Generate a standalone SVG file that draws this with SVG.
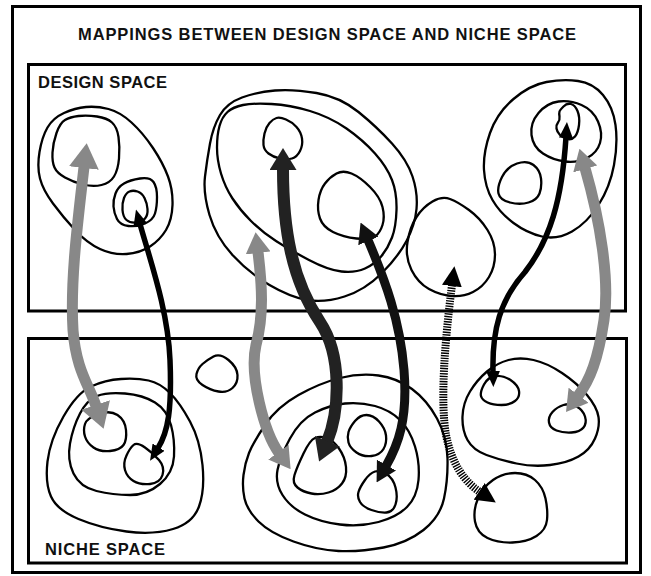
<svg xmlns="http://www.w3.org/2000/svg" width="651" height="576" viewBox="0 0 651 576">
<style>
.frame{fill:none;stroke:#000;stroke-width:3}
.blob{fill:none;stroke:#000;stroke-width:2.3;stroke-linejoin:round}
.lbl{font-family:"Liberation Sans",Arial,sans-serif;font-weight:bold;font-size:16.5px;fill:#111}
.arr{fill:none;stroke-linecap:butt}
</style>
<defs>
<marker id="hgL" markerUnits="userSpaceOnUse" viewBox="0 0 25 30" markerWidth="25" markerHeight="30" refX="1" refY="15" orient="auto-start-reverse"><path d="M0,0 L25,15 L0,30 Z" fill="#888"/></marker>
<marker id="hgS" markerUnits="userSpaceOnUse" viewBox="0 0 21 25" markerWidth="21" markerHeight="25" refX="1" refY="12.5" orient="auto-start-reverse"><path d="M0,0 L21,12.5 L0,25 Z" fill="#888"/></marker>
<marker id="hd1" markerUnits="userSpaceOnUse" viewBox="0 0 22 27" markerWidth="22" markerHeight="27" refX="1" refY="13.5" orient="auto-start-reverse"><path d="M0,0 L22,13.5 L0,27 Z" fill="#222"/></marker>
<marker id="hd2" markerUnits="userSpaceOnUse" viewBox="0 0 20 22" markerWidth="20" markerHeight="22" refX="1" refY="11" orient="auto-start-reverse"><path d="M0,0 L20,11 L0,22 Z" fill="#111"/></marker>
<marker id="hb" markerUnits="userSpaceOnUse" viewBox="0 0 16 14" markerWidth="16" markerHeight="14" refX="1" refY="7" orient="auto-start-reverse"><path d="M0,0 L16,7 L0,14 Z" fill="#000"/></marker>
<marker id="hh" markerUnits="userSpaceOnUse" viewBox="0 0 20 20" markerWidth="20" markerHeight="20" refX="1" refY="10" orient="auto-start-reverse"><path d="M0,0 L20,10 L0,20 Z" fill="#000"/></marker>
</defs>
<rect width="651" height="576" fill="#fff"/>
<g id="frame">
<rect class="frame" x="12.5" y="6.5" width="628" height="566"/>
<text class="lbl" x="78" y="40" textLength="498" lengthAdjust="spacing">MAPPINGS BETWEEN DESIGN SPACE AND NICHE SPACE</text>
</g>
<g id="design-space">
<rect class="frame" x="28.5" y="64.5" width="597" height="246.5"/>
<text class="lbl" x="38" y="88" textLength="129" lengthAdjust="spacing">DESIGN SPACE</text>
</g>
<g id="niche-space">
<rect class="frame" x="28.5" y="338.5" width="598" height="224.5"/>
<text class="lbl" x="45" y="555" textLength="120" lengthAdjust="spacing">NICHE SPACE</text>
</g>
<g id="design-left-cluster">
<path class="blob" d="M64,113 Q75,108 86,107 Q97,106 108.5,109 Q120,112 131.5,122.5 Q143,133 153,148 Q163,163 168,176.5 Q173,190 172.5,205 Q172,220 166,230 Q160,240 150,246.5 Q140,253 126.5,254 Q113,255 100,249 Q87,243 75,230 Q63,217 53,203.5 Q43,190 40,178.5 Q37,167 39.5,152 Q42,137 47.5,127.5 Q53,118 64,113 Z"/>
<path class="blob" d="M56.5,133 Q60,123 65,120 Q70,117 78.5,116 Q87,115 97,116.5 Q107,118 112,122.5 Q117,127 118.5,137 Q120,147 119,158.5 Q118,170 114,176.5 Q110,183 101.5,185 Q93,187 83,184.5 Q73,182 65,177.5 Q57,173 54.5,167.5 Q52,162 52.5,152.5 Q53,143 56.5,133 Z"/>
<path class="blob" d="M115.5,193.5 Q118,187 124,183.5 Q130,180 140,178.5 Q150,177 153.5,182 Q157,187 157,197 Q157,207 155,213.5 Q153,220 145,223.5 Q137,227 128.5,226 Q120,225 117,219 Q114,213 113.5,206.5 Q113,200 115.5,193.5 Z"/>
<path class="blob" d="M137.5,191.5 Q142,193 144.5,198 Q147,203 147.5,209 Q148,215 145,218.5 Q142,222 136,222.5 Q130,223 126.5,220 Q123,217 122.5,210 Q122,203 124,198 Q126,193 129.5,191.5 Q133,190 137.5,191.5 Z"/>
</g>
<g id="design-middle-cluster">
<path class="blob" d="M242,97.5 Q257,92 275,90.5 Q293,89 316.5,93 Q340,97 358.5,112 Q377,127 392,143.5 Q407,160 412.5,176.5 Q418,193 416.5,209 Q415,225 406.5,241 Q398,257 381.5,273.5 Q365,290 344.5,296.5 Q324,303 307,300 Q290,297 269.5,285 Q249,273 232.5,255 Q216,237 209.5,215 Q203,193 205,176.5 Q207,160 210,143.5 Q213,127 220,115 Q227,103 242,97.5 Z"/>
<path class="blob" d="M227.5,112 Q233,107 243,105 Q253,103 271.5,104 Q290,105 310,111 Q330,117 346.5,128.5 Q363,140 375,153.5 Q387,167 392,180 Q397,193 396.5,210 Q396,227 392,237.5 Q388,248 381.5,256 Q375,264 365,268.5 Q355,273 341.5,271.5 Q328,270 309,260 Q290,250 276,241 Q262,232 251,221 Q240,210 232.5,198.5 Q225,187 221,173.5 Q217,160 217,147.5 Q217,135 219.5,126 Q222,117 227.5,112 Z"/>
<path class="blob" d="M264.5,133.5 Q266,127 269.5,123 Q273,119 276.5,118 Q280,117 286,119.5 Q292,122 296.5,127 Q301,132 302,138.5 Q303,145 300,151 Q297,157 292,158.5 Q287,160 280,158.5 Q273,157 268.5,153.5 Q264,150 263.5,145 Q263,140 264.5,133.5 Z"/>
<path class="blob" d="M325,183.5 Q330,177 336.5,173.5 Q343,170 351.5,173.5 Q360,177 370,187 Q380,197 382.5,207 Q385,217 382.5,225 Q380,233 375,236.5 Q370,240 356.5,238.5 Q343,237 333,232 Q323,227 320,218.5 Q317,210 318.5,200 Q320,190 325,183.5 Z"/>
</g>
<g id="design-isolated">
<path class="blob" d="M407.5,242 Q410,227 416.5,217 Q423,207 432.5,201.5 Q442,196 450,199 Q458,202 469,210 Q480,218 487.5,230 Q495,242 495,254.5 Q495,267 489,277 Q483,287 473,292 Q463,297 451.5,296 Q440,295 429,289 Q418,283 411.5,270 Q405,257 407.5,242 Z"/>
</g>
<g id="design-right-cluster">
<path class="blob" d="M490,133 Q497,113 513.5,99 Q530,85 546.5,82 Q563,79 578,81 Q593,83 603,95 Q613,107 615.5,125 Q618,143 614,165 Q610,187 598.5,205 Q587,223 572,231.5 Q557,240 542,236.5 Q527,233 513.5,223 Q500,213 492.5,200 Q485,187 484,170 Q483,153 490,133 Z"/>
<path class="blob" d="M538.5,113 Q547,103 558.5,101.5 Q570,100 581.5,105 Q593,110 598,121.5 Q603,133 600,143 Q597,153 587,158 Q577,163 565,161.5 Q553,160 543,153.5 Q533,147 531.5,135 Q530,123 538.5,113 Z"/>
<path class="blob" d="M563.5,106.5 Q567,103 571,104 Q575,105 577.5,111 Q580,117 579,125 Q578,133 575,136.5 Q572,140 567.5,139 Q563,138 560,135 Q557,132 556.5,128.5 Q556,125 558,122.5 Q560,120 559.5,116.5 Q559,113 559.5,111.5 Q560,110 563.5,106.5 Z"/>
<path class="blob" d="M502,177 Q507,167 517,163.5 Q527,160 533.5,165 Q540,170 541,178.5 Q542,187 539.5,193.5 Q537,200 528.5,202.5 Q520,205 510,202.5 Q500,200 498.5,193.5 Q497,187 502,177 Z"/>
</g>
<g id="niche-left-cluster">
<path class="blob" d="M121,379 Q137,378 148.5,380.5 Q160,383 170,393 Q180,403 190,421.5 Q200,440 202.5,465 Q205,490 199,506.5 Q193,523 173,529 Q153,535 126.5,531.5 Q100,528 78.5,519 Q57,510 51,496.5 Q45,483 47.5,461.5 Q50,440 63.5,416.5 Q77,393 91,386.5 Q105,380 121,379 Z"/>
<path class="blob" d="M125,393.5 Q143,395 155,402.5 Q167,410 171,425 Q175,440 174,456.5 Q173,473 160,484 Q147,495 130,495 Q113,495 96.5,491 Q80,487 73.5,473.5 Q67,460 70,443.5 Q73,427 80,413.5 Q87,400 97,396 Q107,392 125,393.5 Z"/>
<path class="blob" d="M98.5,414 Q110,410 117.5,415 Q125,420 126,430 Q127,440 123.5,445 Q120,450 110,451 Q100,452 93.5,447.5 Q87,443 85,436.5 Q83,430 85,424 Q87,418 98.5,414 Z"/>
<path class="blob" d="M133.5,445 Q137,442 145,447.5 Q153,453 159,460 Q165,467 162.5,475 Q160,483 150,484 Q140,485 133.5,481 Q127,477 125,470 Q123,463 126.5,455.5 Q130,448 133.5,445 Z"/>
</g>
<g id="niche-isolated-small">
<path class="blob" d="M213.5,356.5 Q220,353 228.5,360 Q237,367 237.5,375 Q238,383 232.5,388 Q227,393 218.5,391.5 Q210,390 202.5,385 Q195,380 196.5,374 Q198,368 202.5,364 Q207,360 213.5,356.5 Z"/>
</g>
<g id="niche-middle-cluster">
<path class="blob" d="M265,425 Q277,407 298.5,395 Q320,383 340,378 Q360,373 378.5,375.5 Q397,378 412,389 Q427,400 437,418.5 Q447,437 447.5,458.5 Q448,480 444,498.5 Q440,517 423.5,530 Q407,543 383.5,547.5 Q360,552 338.5,551 Q317,550 293.5,541.5 Q270,533 258.5,521.5 Q247,510 244.5,498.5 Q242,487 243.5,475 Q245,463 249,453 Q253,443 265,425 Z"/>
<path class="blob" d="M290,438.5 Q300,420 315,412.5 Q330,405 345,403.5 Q360,402 375,406 Q390,410 400,420 Q410,430 415,446.5 Q420,463 418.5,480 Q417,497 407,507 Q397,517 378.5,522 Q360,527 340,524.5 Q320,522 305,514.5 Q290,507 282.5,495 Q275,483 277.5,470 Q280,457 290,438.5 Z"/>
<path class="blob" d="M294.5,475 Q297,467 303.5,453.5 Q310,440 315,438 Q320,436 326.5,438 Q333,440 339,448.5 Q345,457 346,467 Q347,477 342,483.5 Q337,490 328.5,492.5 Q320,495 311.5,493.5 Q303,492 297.5,487.5 Q292,483 294.5,475 Z"/>
<path class="blob" d="M348.5,432 Q350,427 355,421 Q360,415 366.5,415 Q373,415 379,421.5 Q385,428 386,435.5 Q387,443 383.5,449 Q380,455 371.5,456 Q363,457 356.5,452.5 Q350,448 348.5,442.5 Q347,437 348.5,432 Z"/>
<path class="blob" d="M358.5,492 Q360,487 365,480 Q370,473 375,471.5 Q380,470 386.5,474 Q393,478 395.5,487.5 Q398,497 395.5,504.5 Q393,512 386.5,512.5 Q380,513 371.5,510 Q363,507 360,502 Q357,497 358.5,492 Z"/>
</g>
<g id="niche-right-cluster">
<path class="blob" d="M462.5,416.5 Q463,403 470,391.5 Q477,380 487,371.5 Q497,363 508.5,360 Q520,357 533.5,360 Q547,363 562,373 Q577,383 587,395 Q597,407 598.5,417 Q600,427 595,438.5 Q590,450 578.5,456.5 Q567,463 550,465 Q533,467 516.5,463.5 Q500,460 486.5,455 Q473,450 467.5,440 Q462,430 462.5,416.5 Z"/>
<path class="blob" d="M484,384.5 Q488,377 495.5,376 Q503,375 510.5,380 Q518,385 519,391 Q520,397 515,401 Q510,405 501.5,405 Q493,405 487.5,402.5 Q482,400 481,396 Q480,392 484,384.5 Z"/>
<path class="blob" d="M552.5,412 Q557,407 563.5,405 Q570,403 576.5,406.5 Q583,410 585,416.5 Q587,423 583.5,427.5 Q580,432 571.5,432.5 Q563,433 556.5,430.5 Q550,428 549,422.5 Q548,417 552.5,412 Z"/>
</g>
<g id="niche-bottom-blob">
<path class="blob" d="M478,498.5 Q483,487 493,480 Q503,473 515,473 Q527,473 535,480 Q543,487 545.5,498.5 Q548,510 547,520 Q546,530 536.5,536 Q527,542 512.5,542.5 Q498,543 487.5,538 Q477,533 475,521.5 Q473,510 478,498.5 Z"/>
</g>
<g id="connectors">
<path class="arr" d="M84,167 C78,220 70,280 73,330 C76,370 89,385 96,406" stroke="#888" stroke-width="11" marker-start="url(#hgL)" marker-end="url(#hgL)"/>
<path class="arr" d="M140,224 C150,260 168,310 170,360 C172,410 168,432 158,448" stroke="#000" stroke-width="5.5" marker-start="url(#hb)" marker-end="url(#hb)"/>
<path class="arr" d="M258,252 C262,285 264,315 256,345 C249,375 264,432 279,453" stroke="#888" stroke-width="11" marker-start="url(#hgS)" marker-end="url(#hgS)"/>
<path class="arr" d="M283,169 C283,230 292,280 320,322 C342,355 340,410 327,442" stroke="#222" stroke-width="12" marker-start="url(#hd1)" marker-end="url(#hd1)"/>
<path class="arr" d="M368,240 C385,280 400,320 404,370 C408,420 398,445 386,466" stroke="#111" stroke-width="9" marker-start="url(#hd2)" marker-end="url(#hd2)"/>
<path class="arr" d="M452,285 C445,340 440,400 446,435 C452,465 465,482 480,492" stroke="#000" stroke-width="8" stroke-dasharray="1.4 1.2" marker-start="url(#hh)" marker-end="url(#hh)"/>
<path class="arr" d="M566,137 C562,200 550,240 525,272 C500,300 492,330 493,372" stroke="#000" stroke-width="5.5" marker-start="url(#hb)" marker-end="url(#hb)"/>
<path class="arr" d="M585,168 C600,220 610,280 604,320 C598,360 590,380 578,396" stroke="#888" stroke-width="11" marker-start="url(#hgS)" marker-end="url(#hgS)"/>
</g>
</svg>
